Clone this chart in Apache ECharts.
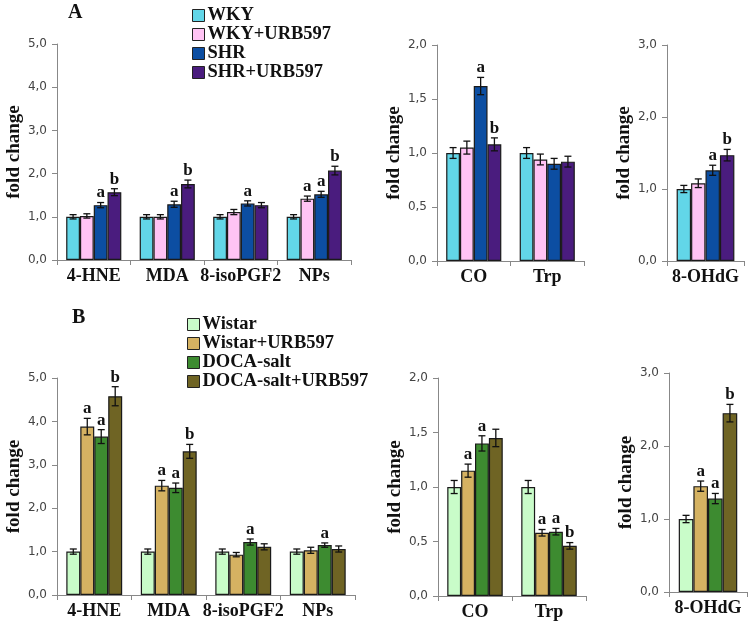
<!DOCTYPE html>
<html>
<head>
<meta charset="utf-8">
<script src="https://cdn.jsdelivr.net/npm/echarts@6/dist/echarts.min.js"></script>
<style>html,body{margin:0;padding:0;background:#fff;}#c{width:750px;height:626px;}</style>
</head>
<body>
<div id="c"></div>
<script>
// ---- categories / groups ----
const groupsA = ['WKY', 'WKY+URB597', 'SHR', 'SHR+URB597'];
const groupsB = ['Wistar', 'Wistar+URB597', 'DOCA-salt', 'DOCA-salt+URB597'];
const catsP1 = ['4-HNE', 'MDA', '8-isoPGF2', 'NPs'];
const catsP2 = ['CO', 'Trp'];
const catsP3 = ['8-OHdG'];

// ---- panel A values (rows = groups) ----
const a1Values = [[1.00, 1.00, 1.00, 1.00], [1.02, 1.00, 1.11, 1.42], [1.27, 1.29, 1.31, 1.52], [1.57, 1.76, 1.27, 2.07]];
const a1Errors = [[0.05, 0.05, 0.05, 0.05], [0.05, 0.05, 0.06, 0.06], [0.06, 0.07, 0.06, 0.07], [0.08, 0.09, 0.06, 0.10]];
const a1Letters = [['', '', '', ''], ['', '', '', 'a'], ['a', 'a', 'a', 'a'], ['b', 'b', '', 'b']];

const a2Values = [[1.00, 1.00], [1.05, 0.94], [1.62, 0.90], [1.08, 0.92]];
const a2Errors = [[0.05, 0.05], [0.06, 0.05], [0.08, 0.05], [0.06, 0.05]];
const a2Letters = [['', ''], ['', ''], ['a', ''], ['b', '']];

const a3Values = [[1.00], [1.08], [1.26], [1.47]];
const a3Errors = [[0.05], [0.06], [0.07], [0.08]];
const a3Letters = [[''], [''], ['a'], ['b']];

// ---- panel B values ----
const b1Values = [[1.00, 1.00, 1.00, 1.00], [3.88, 2.52, 0.93, 1.03], [3.65, 2.47, 1.22, 1.15], [4.58, 3.31, 1.11, 1.06]];
const b1Errors = [[0.06, 0.06, 0.06, 0.06], [0.19, 0.12, 0.05, 0.07], [0.16, 0.11, 0.07, 0.05], [0.22, 0.16, 0.07, 0.07]];
const b1Letters = [['', '', '', ''], ['a', 'a', '', ''], ['a', 'a', 'a', 'a'], ['b', 'b', '', '']];

const b2Values = [[1.00, 1.00], [1.15, 0.58], [1.40, 0.59], [1.45, 0.46]];
const b2Errors = [[0.06, 0.06], [0.06, 0.03], [0.07, 0.03], [0.08, 0.03]];
const b2Letters = [['', ''], ['a', 'a'], ['a', 'a'], ['', 'b']];

const b3Values = [[1.00], [1.45], [1.28], [2.45]];
const b3Errors = [[0.05], [0.07], [0.07], [0.12]];
const b3Letters = [[''], ['a'], ['a'], ['b']];

// ---- styling ----
const colorsA = ['#62D6E8', '#FFC3F4', '#0C4EA2', '#4A1C7E'];
const colorsB = ['#C9FCC9', '#D5B262', '#3D8B30', '#6F6424'];
const SERIF = 'Liberation Serif';

const panels = [
  { cats: catsP1, vals: a1Values, errs: a1Errors, lets: a1Letters, groups: groupsA, colors: colorsA, grid: { left: 57, top: 44, width: 294, height: 216 }, max: 5, interval: 1, nameGap: 32 },
  { cats: catsP2, vals: a2Values, errs: a2Errors, lets: a2Letters, groups: groupsA, colors: colorsA, grid: { left: 437, top: 45, width: 147, height: 216 }, max: 2, interval: 0.5, nameGap: 32 },
  { cats: catsP3, vals: a3Values, errs: a3Errors, lets: a3Letters, groups: groupsA, colors: colorsA, grid: { left: 667, top: 45, width: 77, height: 216 }, max: 3, interval: 1, nameGap: 30 },
  { cats: catsP1, vals: b1Values, errs: b1Errors, lets: b1Letters, groups: groupsB, colors: colorsB, grid: { left: 57, top: 378, width: 298, height: 217 }, max: 5, interval: 1, nameGap: 32 },
  { cats: catsP2, vals: b2Values, errs: b2Errors, lets: b2Letters, groups: groupsB, colors: colorsB, grid: { left: 438, top: 378, width: 148, height: 218 }, max: 2, interval: 0.5, nameGap: 33 },
  { cats: catsP3, vals: b3Values, errs: b3Errors, lets: b3Letters, groups: groupsB, colors: colorsB, grid: { left: 669, top: 373, width: 78, height: 219 }, max: 3, interval: 1, nameGap: 31 }
];

const grids = [], xAxes = [], yAxes = [], series = [];

function makeRender(p) {
  const nG = p.vals.length;
  return function (params, api) {
    const cat = api.value(0), g = api.value(1);
    const v = p.vals[g][cat], e = p.errs[g][cat], L = p.lets[g][cat];
    const band = api.size([1, 0])[0];
    const bw = band * 0.75 / nG;
    const cx = api.coord([cat, 0])[0] + (g - (nG - 1) / 2) * bw;
    const yT = api.coord([cat, v + e])[1];
    const yB = api.coord([cat, v - e])[1];
    const cap = 3.5;
    const st = { stroke: '#111', lineWidth: 1.3 };
    const children = [
      { type: 'line', shape: { x1: cx, y1: yT, x2: cx, y2: yB }, style: st },
      { type: 'line', shape: { x1: cx - cap, y1: yT, x2: cx + cap, y2: yT }, style: st },
      { type: 'line', shape: { x1: cx - cap, y1: yB, x2: cx + cap, y2: yB }, style: st }
    ];
    if (L) {
      children.push({ type: 'text', x: cx, y: yT - 1, style: { text: L, fill: '#111', font: 'bold 17px "Liberation Serif"', align: 'center', verticalAlign: 'bottom' } });
    }
    return { type: 'group', children };
  };
}

panels.forEach((p, i) => {
  grids.push(Object.assign({ containLabel: false }, p.grid));
  xAxes.push({
    type: 'category', gridIndex: i, data: p.cats,
    axisLine: { lineStyle: { color: '#888', width: 1 } },
    axisTick: { show: true, interval: 0, length: 5, lineStyle: { color: '#888' } },
    axisLabel: { interval: 0, margin: 7, fontFamily: SERIF, fontWeight: 'bold', fontSize: 18, color: '#111' }
  });
  yAxes.push({
    type: 'value', gridIndex: i, min: 0, max: p.max, interval: p.interval,
    axisLine: { show: true, lineStyle: { color: '#888', width: 1 } },
    axisTick: { show: true, length: 5, lineStyle: { color: '#888' } },
    splitLine: { show: false },
    axisLabel: { margin: 10, fontFamily: 'DejaVu Sans', fontSize: 12, color: '#444', formatter: v => v.toFixed(1).replace('.', ',') },
    name: 'fold change', nameLocation: 'middle', nameGap: p.nameGap,
    nameTextStyle: { fontFamily: SERIF, fontWeight: 'bold', fontSize: 19, color: '#111' }
  });
  p.groups.forEach((gName, g) => {
    series.push({
      type: 'bar', name: gName, xAxisIndex: i, yAxisIndex: i,
      data: p.vals[g], barGap: '0%', barCategoryGap: '25%',
      itemStyle: { color: p.colors[g], borderColor: '#1a1a1a', borderWidth: 1.2 },
      animation: false
    });
  });
  const items = [];
  p.cats.forEach((c, ci) => p.groups.forEach((gName, g) => items.push([ci, g])));
  series.push({
    type: 'custom', xAxisIndex: i, yAxisIndex: i, data: items, z: 5,
    renderItem: makeRender(p), animation: false, silent: true
  });
});

const legendCommon = {
  orient: 'vertical', icon: 'rect', itemWidth: 12, itemHeight: 12, itemGap: 0,
  itemStyle: { borderColor: '#222', borderWidth: 1 },
  textStyle: { fontFamily: SERIF, fontWeight: 'bold', fontSize: 18.5, color: '#111', lineHeight: 17.5, padding: [0, 0, 0, -2] },
  padding: 0, selectedMode: false
};

const chart = echarts.init(document.getElementById('c'), null, { renderer: 'canvas' });
chart.setOption({
  animation: false,
  backgroundColor: '#fff',
  grid: grids, xAxis: xAxes, yAxis: yAxes, series: series,
  legend: [
    Object.assign({}, legendCommon, { left: 192, top: 6, data: groupsA }),
    Object.assign({}, legendCommon, { left: 187, top: 315, data: groupsB })
  ],
  graphic: [
    { type: 'text', left: 68, top: 3, style: { text: 'A', font: 'bold 20px "Liberation Serif"', fill: '#111' } },
    { type: 'text', left: 72, top: 308, style: { text: 'B', font: 'bold 20px "Liberation Serif"', fill: '#111' } }
  ]
});
</script>
</body>
</html>
